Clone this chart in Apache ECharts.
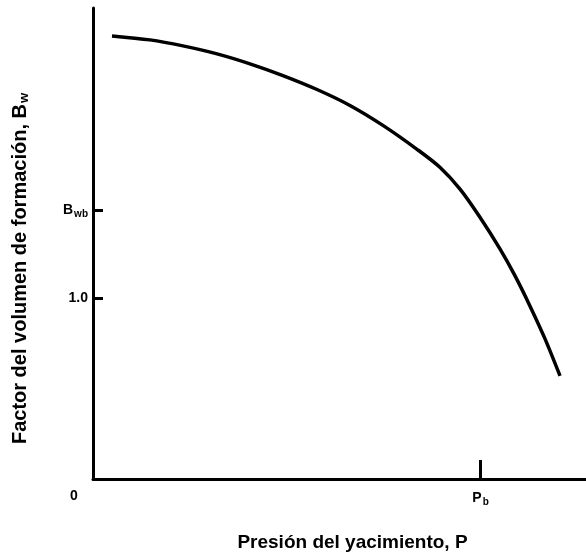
<!DOCTYPE html>
<html>
<head>
<meta charset="utf-8">
<script src="https://cdn.jsdelivr.net/npm/echarts@6/dist/echarts.min.js"></script>
<style>html,body{margin:0;padding:0;background:#fff}#c{width:586px;height:557px}</style>
</head>
<body>
<div id="c"></div>
<script>
// Pressure (relative to bubble point P_b = 1) and formation volume factor
const pressure = [0.049,0.147,0.232,0.320,0.405,0.490,0.578,0.663,0.748,0.836,0.895,0.947,0.998,1.050,1.089,1.127,1.166,1.205];
const bw       = [2.446,2.424,2.391,2.347,2.292,2.227,2.150,2.062,1.952,1.820,1.721,1.600,1.446,1.270,1.121,0.957,0.775,0.569];
const pb = 1.0;
const bwb = 1.4835;
const yTicks = [1.0, bwb];
const yTickLabels = ['1.0', '{b|B}{s|wb}'];
const xTicks = [0, pb];
const xTickLabels = ['{z|0}', '{b|P}{s|b}'];
const yTitle = '{t|Factor del volumen de formación, B}{ts|w}';
const xTitle = 'Presión del yacimiento, P';

const chart = echarts.init(document.getElementById('c'), null, {renderer: 'canvas'});
const font = 'Liberation Sans';
chart.setOption({
  animation: false,
  backgroundColor: '#fff',
  grid: {left: 93, right: 0, top: 8, bottom: 76, containLabel: false},
  xAxis: {
    type: 'value', min: 0, max: 1.272,
    splitLine: {show: false},
    axisLine: {show: true, lineStyle: {color: '#000', width: 3}},
    axisTick: {show: true, inside: true, length: 19, lineStyle: {color: '#000', width: 3}, customValues: [pb]},
    axisLabel: {
      show: true, margin: 10, customValues: xTicks,
      formatter: v => xTickLabels[xTicks.indexOf(v)] || '',
      rich: {
        b: {fontFamily: font, fontWeight: 'bold', fontSize: 14, color: '#000'},
        s: {fontFamily: font, fontWeight: 'bold', fontSize: 10, color: '#000', verticalAlign: 'bottom', padding: [8, 0, 0, 1]},
        z: {fontFamily: font, fontWeight: 'bold', fontSize: 14, color: '#000', padding: [0, 38, 0, 0]}
      }
    },
    name: xTitle, nameLocation: 'middle', nameGap: 54,
    nameTextStyle: {fontFamily: font, fontWeight: 'bold', fontSize: 19, color: '#000', padding: [0, 0, 0, 26]}
  },
  yAxis: {
    type: 'value', min: 0, max: 2.6,
    splitLine: {show: false},
    axisLine: {show: true, lineStyle: {color: '#000', width: 3}},
    axisTick: {show: true, inside: true, length: 10, lineStyle: {color: '#000', width: 3}, customValues: yTicks},
    axisLabel: {
      show: true, margin: 5, customValues: yTicks,
      fontFamily: font, fontWeight: 'bold', fontSize: 14, color: '#000',
      formatter: v => yTickLabels[yTicks.indexOf(v)] || '',
      rich: {
        b: {fontFamily: font, fontWeight: 'bold', fontSize: 14, color: '#000'},
        s: {fontFamily: font, fontWeight: 'bold', fontSize: 10, color: '#000', verticalAlign: 'bottom', padding: [8, 0, 0, 1]}
      }
    },
    name: yTitle, nameLocation: 'middle', nameGap: 62, nameRotate: 90,
    nameTextStyle: {
      padding: [0, 50, 0, 0],
      rich: {
        t: {fontFamily: font, fontWeight: 'bold', fontSize: 20, color: '#000'},
        ts: {fontFamily: font, fontWeight: 'bold', fontSize: 13, color: '#000', verticalAlign: 'bottom', padding: [9, 0, 0, 1]}
      }
    }
  },
  series: [{
    type: 'line', data: pressure.map((p, i) => [p, bw[i]]),
    smooth: 0.3, showSymbol: false, symbol: 'none',
    lineStyle: {color: '#000', width: 3.5, cap: 'butt'}
  }]
});
</script>
</body>
</html>
